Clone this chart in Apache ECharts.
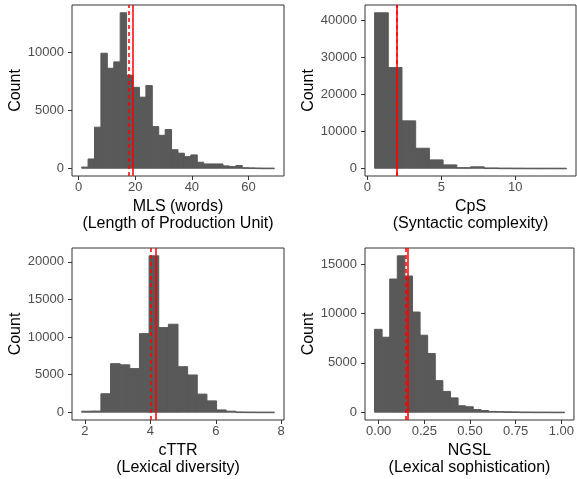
<!DOCTYPE html>
<html>
<head>
<meta charset="utf-8">
<script src="https://cdn.jsdelivr.net/npm/echarts@6/dist/echarts.min.js"></script>
<style>
html, body { margin: 0; padding: 0; background: #ffffff; }
#chart { width: 577px; height: 479px; }
</style>
</head>
<body>
<div id="chart"></div>
<script>
// ---- MLS (words): 30 bins ----
const mlsBinStart = 1.1;
const mlsBinWidth = 2.267;
const mlsCounts = [100, 800, 3550, 9950, 8650, 9200, 13450, 8050, 7000, 6150,
                   7150, 3600, 2850, 3350, 1600, 1300, 1000, 1150, 520, 370,
                   370, 370, 200, 140, 230, 40, 30, 20, 10, 10];
const mlsMean = 19.3;
const mlsMedian = 17.9;
const mlsXTicks = [0, 20, 40, 60];
const mlsYTicks = [0, 5000, 10000];

// ---- CpS: 14 bins ----
const cpsBinStart = 0.49;
const cpsBinWidth = 0.926;
const cpsCounts = [42000, 27200, 12800, 5400, 2250, 900, 150, 380, 80, 40, 20, 10, 10, 5];
const cpsMean = 1.96;
const cpsMedian = 1.99;
const cpsXTicks = [0, 5, 10];
const cpsYTicks = [0, 10000, 20000, 30000, 40000];

// ---- cTTR: 20 bins ----
const cttrBinStart = 1.9;
const cttrBinWidth = 0.2945;
const cttrCounts = [130, 150, 2450, 6450, 6300, 5800, 10450, 20800, 11250, 11700,
                    6050, 4950, 2400, 1500, 300, 130, 30, 20, 10, 10];
const cttrMean = 4.16;
const cttrMedian = 4.0;
const cttrXTicks = [2, 4, 6, 8];
const cttrYTicks = [0, 5000, 10000, 15000, 20000];

// ---- NGSL: 25 bins ----
const ngslBinStart = -0.023;
const ngslBinWidth = 0.0416;
const ngslCounts = [8400, 7600, 13500, 15850, 13800, 10150, 7800, 5950, 3200, 2100,
                    1450, 650, 550, 270, 170, 80, 60, 40, 30, 20,
                    15, 10, 10, 5, 5];
const ngslMean = 0.161;
const ngslMedian = 0.147;
const ngslXTicks = [0, 0.25, 0.5, 0.75, 1];
const ngslYTicks = [0, 5000, 10000, 15000];

const FONT = "'Liberation Sans', Arial, Helvetica, sans-serif";
const BAR_COLOR = '#595959';
const FRAME_COLOR = '#333333';
const TICK_TEXT = '#4d4d4d';

const panels = [
  { start: mlsBinStart, width: mlsBinWidth, counts: mlsCounts, mean: mlsMean, median: mlsMedian,
    xTicks: mlsXTicks, yTicks: mlsYTicks, fmt: v => String(v),
    title: 'MLS (words)\n(Length of Production Unit)',
    grid: { left: 72, top: 5, width: 212, height: 171 } },
  { start: cpsBinStart, width: cpsBinWidth, counts: cpsCounts, mean: cpsMean, median: cpsMedian,
    xTicks: cpsXTicks, yTicks: cpsYTicks, fmt: v => String(v),
    title: 'CpS\n(Syntactic complexity)',
    grid: { left: 365, top: 5, width: 211, height: 171 } },
  { start: cttrBinStart, width: cttrBinWidth, counts: cttrCounts, mean: cttrMean, median: cttrMedian,
    xTicks: cttrXTicks, yTicks: cttrYTicks, fmt: v => String(v),
    title: 'cTTR\n(Lexical diversity)',
    grid: { left: 72, top: 248, width: 212, height: 172 } },
  { start: ngslBinStart, width: ngslBinWidth, counts: ngslCounts, mean: ngslMean, median: ngslMedian,
    xTicks: ngslXTicks, yTicks: ngslYTicks, fmt: v => v.toFixed(2),
    title: 'NGSL\n(Lexical sophistication)',
    grid: { left: 365, top: 248, width: 211, height: 172 } }
];

// one rectangle per bin, from its left edge to its right edge, baseline to count
function renderBin(params, api) {
  const topLeft = api.coord([api.value(0), api.value(2)]);
  const bottomRight = api.coord([api.value(1), 0]);
  return {
    type: 'rect',
    shape: {
      x: topLeft[0],
      y: topLeft[1],
      width: bottomRight[0] - topLeft[0],
      height: Math.max(bottomRight[1] - topLeft[1], 0.6)
    },
    style: { fill: BAR_COLOR, stroke: BAR_COLOR, lineWidth: 1 }
  };
}

const grids = [], xAxes = [], yAxes = [], series = [];

panels.forEach((p, i) => {
  const n = p.counts.length;
  const span = n * p.width;
  const xMin = p.start - 0.05 * span;
  const xMax = p.start + span + 0.05 * span;
  const peak = Math.max.apply(null, p.counts);
  const yMin = -0.05 * peak;
  const yMax = 1.05 * peak;

  grids.push(Object.assign({
    show: true,
    borderColor: FRAME_COLOR,
    borderWidth: 1,
    backgroundColor: 'transparent',
    containLabel: false
  }, p.grid));

  xAxes.push({
    gridIndex: i,
    type: 'value',
    min: xMin,
    max: xMax,
    axisLine: { show: false, onZero: false },
    splitLine: { show: false },
    axisTick: { show: true, length: 4, lineStyle: { color: FRAME_COLOR, width: 1 }, customValues: p.xTicks },
    axisLabel: { customValues: p.xTicks, color: TICK_TEXT, fontSize: 13, fontFamily: FONT, margin: 5, formatter: p.fmt },
    name: p.title,
    nameLocation: 'middle',
    nameGap: 22,
    nameTextStyle: { color: '#000000', fontSize: 16, fontFamily: FONT, lineHeight: 17 }
  });

  yAxes.push({
    gridIndex: i,
    type: 'value',
    min: yMin,
    max: yMax,
    axisLine: { show: false, onZero: false },
    splitLine: { show: false },
    axisTick: { show: true, length: 4, lineStyle: { color: FRAME_COLOR, width: 1 }, customValues: p.yTicks },
    axisLabel: { customValues: p.yTicks, color: TICK_TEXT, fontSize: 13, fontFamily: FONT, margin: 8,
                 formatter: v => String(v) },
    name: 'Count',
    nameLocation: 'middle',
    nameGap: 45,
    nameTextStyle: { color: '#000000', fontSize: 16, fontFamily: FONT }
  });

  const bins = p.counts.map((c, k) => [p.start + k * p.width, p.start + (k + 1) * p.width, c]);

  series.push({
    type: 'custom',
    xAxisIndex: i,
    yAxisIndex: i,
    renderItem: renderBin,
    encode: { x: [0, 1], y: 2 },
    data: bins,
    silent: true,
    animation: false,
    markLine: {
      silent: true,
      symbol: 'none',
      label: { show: false },
      animation: false,
      data: [
        { xAxis: p.median, lineStyle: { color: '#ff0000', width: 1.5, type: [4, 3] } },
        { xAxis: p.mean, lineStyle: { color: '#ff0000', width: 1.5, type: 'solid' } }
      ]
    }
  });
});

const chart = echarts.init(document.getElementById('chart'), null, { renderer: 'canvas' });
chart.setOption({
  animation: false,
  backgroundColor: '#ffffff',
  grid: grids,
  xAxis: xAxes,
  yAxis: yAxes,
  series: series
});
</script>
</body>
</html>
